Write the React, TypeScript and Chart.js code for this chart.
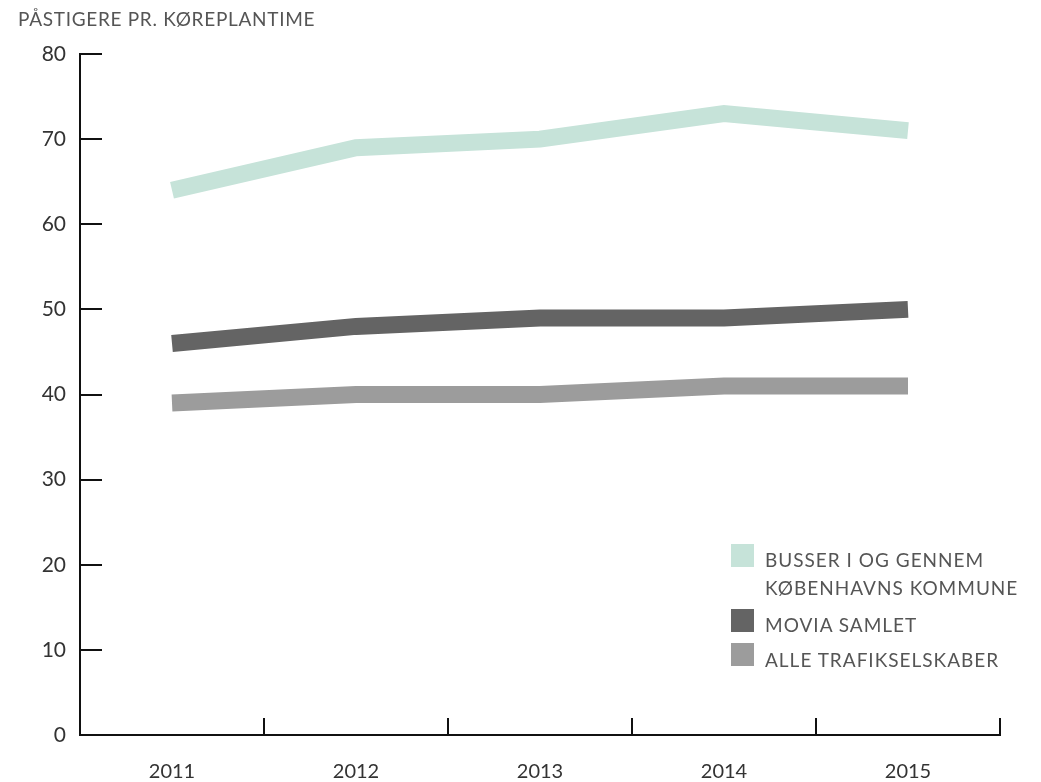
import React, { useEffect, useRef } from 'react';
import { Chart, registerables } from 'chart.js';

Chart.register(...registerables);

const years = ['2011', '2012', '2013', '2014', '2015'];
const busserKK = [64, 69, 70, 73, 71];
const moviaSamlet = [46, 48, 49, 49, 50];
const alleTrafikselskaber = [39, 40, 40, 41, 41];
const yTicks = [0, 10, 20, 30, 40, 50, 60, 70, 80];
const seriesNames = ['BUSSER I OG GENNEM KØBENHAVNS KOMMUNE', 'MOVIA SAMLET', 'ALLE TRAFIKSELSKABER'];
const legendLines = [['BUSSER I OG GENNEM', 'KØBENHAVNS KOMMUNE'], ['MOVIA SAMLET'], ['ALLE TRAFIKSELSKABER']];
const titleText = 'PÅSTIGERE PR. KØREPLANTIME';
const seriesColors = ['#c6e3d9', '#646464', '#9c9c9c'];

const FONT = 'Lato, "Open Sans", sans-serif';

const tickMarks = {
  id: 'tickMarks',
  afterDraw(chart: any) {
    const { ctx, chartArea, scales } = chart;
    const x = scales.x;
    const y = scales.y;
    ctx.save();
    ctx.strokeStyle = '#111';
    ctx.lineWidth = 2;
    ctx.lineCap = 'butt';
    y.ticks.forEach((t: any) => {
      const py = Math.round(y.getPixelForValue(t.value));
      ctx.beginPath();
      ctx.moveTo(chartArea.left - 1, py);
      ctx.lineTo(chartArea.left + 22, py);
      ctx.stroke();
    });
    const n = x.ticks.length;
    const step = x.getPixelForValue(1) - x.getPixelForValue(0);
    for (let i = 0; i < n; i++) {
      const px = Math.round(x.getPixelForValue(i) + step / 2);
      ctx.beginPath();
      ctx.moveTo(px, chartArea.bottom + 1);
      ctx.lineTo(px, chartArea.bottom - 17);
      ctx.stroke();
    }
    ctx.restore();
  },
};

export default function App() {
  const canvasRef = useRef<HTMLCanvasElement | null>(null);

  useEffect(() => {
    if (!canvasRef.current) return;
    const seriesData = [busserKK, moviaSamlet, alleTrafikselskaber];
    const chart = new Chart(canvasRef.current, {
      type: 'line',
      data: {
        labels: years,
        datasets: seriesData.map((d, i) => ({
          label: seriesNames[i],
          data: d,
          borderColor: seriesColors[i],
          backgroundColor: seriesColors[i],
          borderWidth: 17,
          borderCapStyle: 'butt',
          borderJoinStyle: 'miter',
          pointRadius: 0,
          pointHoverRadius: 0,
          tension: 0,
          fill: false,
        })),
      },
      options: {
        animation: false,
        responsive: false,
        maintainAspectRatio: false,
        events: [],
        layout: {
          autoPadding: false,
          padding: { top: 54, right: 41, bottom: 0, left: 0 },
        },
        plugins: {
          legend: { display: false },
          tooltip: { enabled: false },
          title: { display: false },
        },
        scales: {
          x: {
            type: 'category',
            offset: true,
            grid: { display: false, drawTicks: false },
            border: { display: true, color: '#111', width: 2 },
            ticks: {
              color: '#333',
              padding: 25,
              maxRotation: 0,
              font: { family: FONT, size: 20 },
            },
            afterFit: (s: any) => {
              s.height = 47;
            },
          },
          y: {
            type: 'linear',
            min: 0,
            max: 80,
            grid: { display: false, drawTicks: false },
            border: { display: true, color: '#111', width: 2 },
            ticks: {
              color: '#333',
              padding: 14,
              font: { family: FONT, size: 21 },
            },
            afterBuildTicks: (s: any) => {
              s.ticks = yTicks.map((v) => ({ value: v }));
            },
            afterFit: (s: any) => {
              s.width = 80;
            },
          },
        },
      },
      plugins: [tickMarks],
    } as any);
    return () => chart.destroy();
  }, []);

  const legendTops = [545.6, 610.7, 646];
  const boxTops = [544, 609, 643];

  return (
    <div style={{ position: 'fixed', left: 0, top: 0, width: 1041, height: 782, background: '#fff' }}>
      <canvas ref={canvasRef} width={1041} height={782} style={{ position: 'absolute', left: 0, top: 0, width: 1041, height: 782 }} />
      <div
        style={{
          position: 'absolute',
          left: 18,
          top: 8,
          fontFamily: FONT,
          fontSize: 19,
          lineHeight: 1.2,
          letterSpacing: '0.7px',
          color: '#555',
          whiteSpace: 'nowrap',
        }}
      >
        {titleText}
      </div>
      {legendLines.map((lines, i) => (
        <React.Fragment key={i}>
          <div
            style={{
              position: 'absolute',
              left: 731,
              top: boxTops[i],
              width: 23,
              height: 23,
              background: seriesColors[i],
            }}
          />
          <div
            style={{
              position: 'absolute',
              left: 765,
              top: legendTops[i],
              fontFamily: FONT,
              fontSize: 19,
              lineHeight: '28px',
              letterSpacing: '1px',
              color: '#555',
              whiteSpace: 'nowrap',
            }}
          >
            {lines.map((l, j) => (
              <div key={j}>{l}</div>
            ))}
          </div>
        </React.Fragment>
      ))}
    </div>
  );
}
